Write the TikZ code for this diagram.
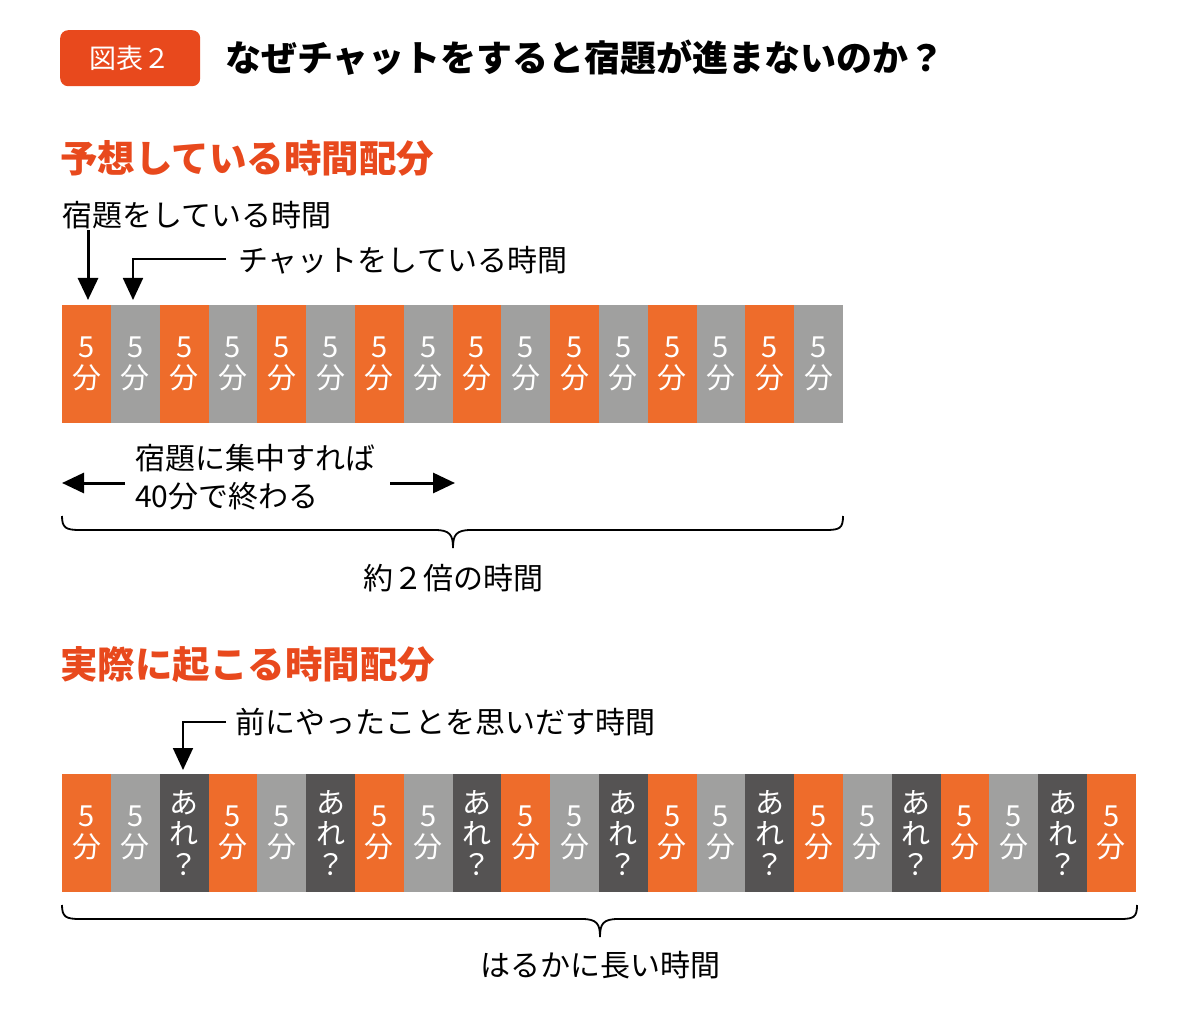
\documentclass[tikz,border=0pt]{standalone}
\usepackage{fontspec}
\setmainfont{Noto Sans CJK JP}
\usetikzlibrary{arrows.meta}
\definecolor{OR}{HTML}{EE6C2B}
\definecolor{RD}{HTML}{E8491D}
\definecolor{GR}{HTML}{A0A09F}
\definecolor{DK}{HTML}{555353}
\begin{document}
\begin{tikzpicture}[x=1pt,y=-1pt,
 cell/.style={anchor=north west,minimum width=48.8pt,minimum height=118pt,inner sep=0,text=white,align=center,font=\fontsize{29}{31}\selectfont},
 lbl/.style={anchor=west,inner sep=0,font=\fontsize{30}{32}\selectfont},
 arr/.style={line width=3pt,-{Triangle[width=20pt,length=22pt]}},
 thin/.style={line width=1.8pt}]
\useasboundingbox (0,0) rectangle (1181,1016);
\node[fill=RD,rounded corners=8pt,minimum width=140pt,minimum height=56pt,text=white,font=\fontsize{27}{30}\selectfont,anchor=north west,inner sep=0] (hdr) at (60,30) {図表２};
\node[lbl,font=\bfseries\fontsize{36}{40}\selectfont] (title) at (225,58) {なぜチャットをすると宿題が進まないのか？};
\node[lbl,text=RD,font=\bfseries\fontsize{37.5}{40}\selectfont] (h1) at (60,158) {予想している時間配分};
\node[lbl] (l1) at (62,215) {宿題をしている時間};
\node[lbl] (l2) at (238,260) {チャットをしている時間};
\coordinate (a1s) at (88,230); \coordinate (a1e) at (88,300);
\draw[arr] (a1s) -- (a1e);
\coordinate (a2s) at (226,259); \coordinate (a2e) at (133,300);
\draw[arr,line width=1.8pt] (a2s) -| (a2e);
\foreach \i in {0,...,15}{
 \pgfmathsetmacro{\xx}{62+48.8*\i}
 \ifodd\i \def\cc{GR}\else\def\cc{OR}\fi
 \node[cell,fill=\cc] (c\i) at (\xx,305) {5\\分};
}
\node[lbl] (m1) at (135,458) {宿題に集中すれば};
\node[lbl] (m2) at (135,496) {40分で終わる};
\coordinate (la) at (125,483); \coordinate (lb) at (62,483);
\coordinate (ra) at (390,483); \coordinate (rb) at (455,483);
\draw[arr] (la) -- (lb);
\draw[arr] (ra) -- (rb);
\draw[thin] (62,516) .. controls (62,528) and (66,530) .. (80,530) -- (435,530) .. controls (450,530) and (453,535) .. (453,548) .. controls (453,535) and (456,530) .. (471,530) -- (826,530) .. controls (840,530) and (843,528) .. (843,516);
\node[font=\fontsize{30}{32}\selectfont,inner sep=0] (b1) at (453,578) {約２倍の時間};
\node[lbl,text=RD,font=\bfseries\fontsize{37.5}{40}\selectfont] (h2) at (60,665) {実際に起こる時間配分};
\node[lbl] (l3) at (235,722) {前にやったことを思いだす時間};
\coordinate (a3s) at (226,722); \coordinate (a3e) at (183,770);
\draw[arr,line width=1.8pt] (a3s) -| (a3e);
\foreach \i in {0,...,21}{
 \pgfmathsetmacro{\xx}{62+48.8*\i}
 \pgfmathtruncatemacro{\m}{mod(\i,3)}
 \ifnum\m=0 \node[cell,fill=OR] (d\i) at (\xx,774) {5\\分};\fi
 \ifnum\m=1 \node[cell,fill=GR] (d\i) at (\xx,774) {5\\分};\fi
 \ifnum\m=2 \node[cell,fill=DK,font=\fontsize{29}{31}\selectfont] (d\i) at (\xx,774) {あ\\れ\\？};\fi
}
\draw[thin] (62,905) .. controls (62,917) and (66,919) .. (80,919) -- (582,919) .. controls (597,919) and (600,924) .. (600,937) .. controls (600,924) and (603,919) .. (618,919) -- (1120,919) .. controls (1134,919) and (1137,917) .. (1137,905);
\node[font=\fontsize{30}{32}\selectfont,inner sep=0] (b2) at (600,965) {はるかに長い時間};
\end{tikzpicture}
\end{document}
